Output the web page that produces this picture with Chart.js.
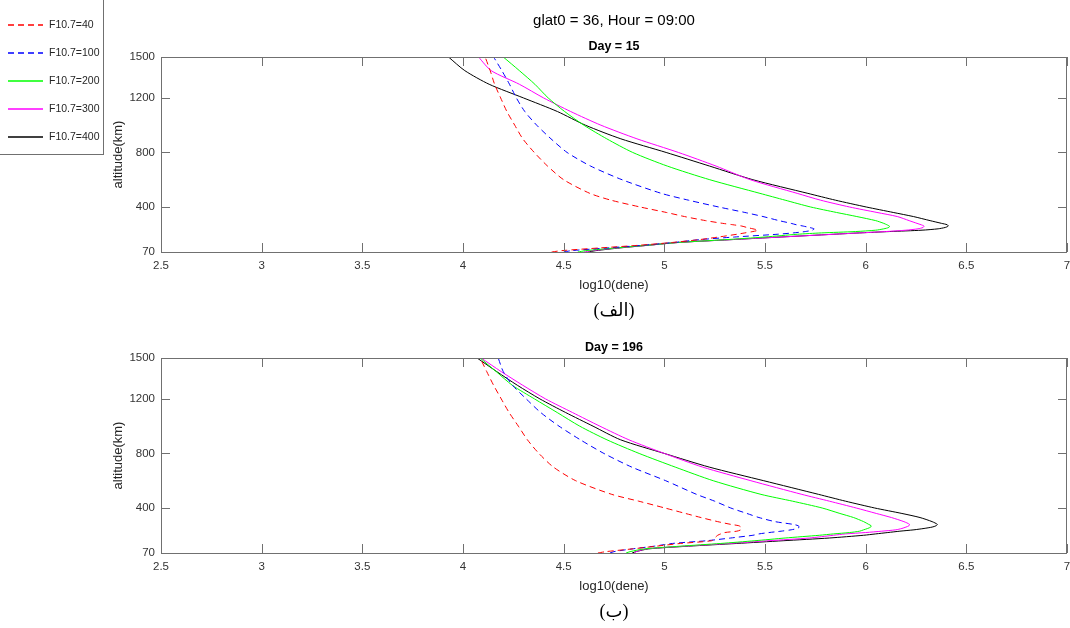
<!DOCTYPE html>
<html>
<head>
<meta charset="utf-8">
<script src="https://cdn.jsdelivr.net/npm/chart.js@4.4.1/dist/chart.umd.min.js"></script>
<style>
  html, body { margin: 0; padding: 0; background: #fff; }
  body { width: 1070px; height: 628px; position: relative; overflow: hidden; }
  canvas { position: absolute; left: 0; }
</style>
</head>
<body>
<canvas id="day15" width="1070" height="340" style="top:0"></canvas>
<canvas id="day196" width="1070" height="314" style="top:314px"></canvas>
<script>
// altitude grid (km) shared by every profile
const altKm = [70, 80, 100, 120, 140, 160, 180, 200, 210, 220, 230, 240, 250, 260, 270, 280,
  300, 330, 360, 400, 450, 500, 600, 700, 800, 900, 1000, 1100, 1200, 1300, 1400, 1500];

const xTicks = [2.5, 3, 3.5, 4, 4.5, 5, 5.5, 6, 6.5, 7];
const yTicks = [70, 400, 800, 1200, 1500];

const seriesNames = ['F10.7=40', 'F10.7=100', 'F10.7=200', 'F10.7=300', 'F10.7=400'];
const seriesColors = ['#ff0000', '#0000ff', '#00ff00', '#ff00ff', '#000000'];
const seriesDash = [[6, 4], [6, 4], [], [], []];

// log10(dene), day 15
const day15F40 = [4.44, 4.49, 4.68, 4.88, 5.04, 5.17, 5.27, 5.36, 5.40, 5.44, 5.465, 5.44, 5.41, 5.385, 5.34, 5.29,
  5.205, 5.10, 5.01, 4.88, 4.735, 4.63, 4.50, 4.42, 4.354, 4.297, 4.257, 4.218, 4.187, 4.157, 4.135, 4.11];
const day15F100 = [4.50, 4.54, 4.72, 4.90, 5.05, 5.17, 5.35, 5.56, 5.64, 5.70, 5.735, 5.744, 5.72, 5.69, 5.655, 5.63,
  5.57, 5.49, 5.40, 5.27, 5.12, 4.985, 4.79, 4.634, 4.517, 4.437, 4.366, 4.307, 4.265, 4.231, 4.193, 4.152];
const day15F200 = [4.57, 4.61, 4.76, 4.92, 5.07, 5.30, 5.50, 5.66, 5.78, 5.95, 6.05, 6.09, 6.115, 6.118, 6.105, 6.09,
  6.05, 5.956, 5.855, 5.727, 5.60, 5.475, 5.226, 5.015, 4.843, 4.714, 4.60, 4.505, 4.423, 4.357, 4.28, 4.20];
const day15F300 = [4.60, 4.64, 4.77, 4.925, 5.07, 5.32, 5.58, 5.84, 5.97, 6.10, 6.20, 6.26, 6.285, 6.29, 6.275, 6.255,
  6.216, 6.157, 6.056, 5.92, 5.776, 5.66, 5.427, 5.257, 5.07, 4.864, 4.685, 4.535, 4.40, 4.28, 4.14, 4.077];
const day15F400 = [4.62, 4.66, 4.78, 4.925, 5.07, 5.325, 5.58, 5.84, 5.97, 6.12, 6.28, 6.36, 6.395, 6.41, 6.405, 6.377,
  6.32, 6.237, 6.137, 6.003, 5.85, 5.713, 5.44, 5.225, 5.009, 4.784, 4.608, 4.469, 4.30, 4.13, 4.009, 3.928];

// log10(dene), day 196
const day196F40 = [4.67, 4.71, 4.84, 4.96, 5.08, 5.235, 5.25, 5.265, 5.28, 5.30, 5.36, 5.38, 5.38, 5.38, 5.37, 5.33,
  5.265, 5.182, 5.105, 5.003, 4.873, 4.739, 4.56, 4.449, 4.377, 4.32, 4.275, 4.229, 4.19, 4.152, 4.118, 4.085];
const day196F100 = [4.73, 4.75, 4.84, 4.95, 5.04, 5.21, 5.33, 5.44, 5.47, 5.52, 5.58, 5.63, 5.66, 5.67, 5.665, 5.64,
  5.55, 5.47, 5.41, 5.33, 5.25, 5.16, 5.007, 4.838, 4.70, 4.583, 4.477, 4.386, 4.314, 4.246, 4.20, 4.175];
const day196F200 = [4.81, 4.83, 4.90, 5.08, 5.28, 5.45, 5.60, 5.77, 5.84, 5.92, 5.97, 5.99, 6.01, 6.025, 6.027, 6.015,
  5.99, 5.94, 5.872, 5.784, 5.637, 5.48, 5.243, 5.054, 4.875, 4.715, 4.58, 4.468, 4.355, 4.245, 4.165, 4.085];
const day196F300 = [4.85, 4.86, 4.91, 5.10, 5.32, 5.52, 5.72, 5.84, 5.90, 6.00, 6.08, 6.15, 6.18, 6.20, 6.215, 6.218,
  6.19, 6.128, 6.053, 5.953, 5.82, 5.683, 5.43, 5.19, 5.0, 4.824, 4.68, 4.544, 4.41, 4.297, 4.19, 4.09];
const day196F400 = [4.84, 4.86, 4.92, 5.12, 5.36, 5.59, 5.82, 5.99, 6.05, 6.11, 6.17, 6.24, 6.29, 6.33, 6.35, 6.356,
  6.33, 6.27, 6.18, 6.045, 5.90, 5.766, 5.494, 5.223, 5.0, 4.783, 4.646, 4.51, 4.382, 4.27, 4.168, 4.07];

const FONT = '"Liberation Sans", Arial, Helvetica, sans-serif';

function buildDatasets(rows) {
  return rows.map((vals, i) => ({
    label: seriesNames[i],
    data: vals.map((v, k) => ({ x: v, y: altKm[k] })),
    borderColor: seriesColors[i],
    borderDash: seriesDash[i],
    borderWidth: 1,
    pointRadius: 0,
    showLine: true,
    tension: 0.25,
    fill: false
  }));
}

// box, inward ticks, titles and axis labels
const axesFrame = {
  id: 'axesFrame',
  afterDraw(chart, args, opts) {
    const { ctx, chartArea: a, scales } = chart;
    ctx.save();
    ctx.strokeStyle = '#707070';
    ctx.lineWidth = 1;
    ctx.setLineDash([]);
    ctx.beginPath();
    scales.x.ticks.forEach(t => {
      const px = Math.round(scales.x.getPixelForValue(t.value)) + 0.5;
      ctx.moveTo(px, a.bottom); ctx.lineTo(px, a.bottom - 9);
      ctx.moveTo(px, a.top); ctx.lineTo(px, a.top + 9);
    });
    scales.y.ticks.forEach(t => {
      const py = Math.round(scales.y.getPixelForValue(t.value)) + 0.5;
      ctx.moveTo(a.left, py); ctx.lineTo(a.left + 9, py);
      ctx.moveTo(a.right, py); ctx.lineTo(a.right - 9, py);
    });
    ctx.stroke();
    ctx.strokeRect(Math.round(a.left) + 0.5, Math.round(a.top) + 0.5,
      Math.round(a.width) - 1, Math.round(a.height));

    const cx = (a.left + a.right) / 2;
    ctx.textAlign = 'center';
    ctx.textBaseline = 'middle';
    ctx.fillStyle = '#000';
    if (opts.title) {
      ctx.font = '15px ' + FONT;
      ctx.fillText(opts.title, cx, opts.titleY);
    }
    ctx.font = 'bold 12.5px ' + FONT;
    ctx.fillText(opts.subtitle, cx, a.top - 10);

    ctx.fillStyle = '#262626';
    ctx.font = '13px ' + FONT;
    ctx.fillText('log10(dene)', cx, a.bottom + 33);
    ctx.save();
    ctx.translate(118, (a.top + a.bottom) / 2);
    ctx.rotate(-Math.PI / 2);
    ctx.fillText('altitude(km)', 0, 0);
    ctx.restore();

    ctx.fillStyle = '#000';
    ctx.direction = 'rtl';
    ctx.font = '18px "Liberation Serif", "DejaVu Sans", serif';
    ctx.fillText(opts.caption, cx, a.bottom + 59);
    ctx.restore();
  }
};

// legend box tucked into the top-left corner
const boxLegend = {
  id: 'boxLegend',
  afterDraw(chart) {
    const { ctx } = chart;
    ctx.save();
    ctx.lineWidth = 1;
    ctx.strokeStyle = '#707070';
    ctx.strokeRect(-1.5, -1.5, 105, 156);
    ctx.font = '10.5px ' + FONT;
    ctx.textAlign = 'left';
    ctx.textBaseline = 'middle';
    seriesNames.forEach((name, i) => {
      const y = 25 + 28 * i;
      ctx.lineWidth = 1.3;
      ctx.strokeStyle = seriesColors[i];
      ctx.setLineDash(seriesDash[i]);
      ctx.beginPath();
      ctx.moveTo(8, y);
      ctx.lineTo(43, y);
      ctx.stroke();
      ctx.fillStyle = '#262626';
      ctx.fillText(name, 49, y);
    });
    ctx.restore();
  }
};

function makePanel(id, rows, top, xHeight, frameOpts, extraPlugins) {
  return new Chart(document.getElementById(id), {
    type: 'scatter',
    data: { datasets: buildDatasets(rows) },
    options: {
      responsive: false,
      animation: false,
      layout: { padding: { top: top, right: 3, left: 0, bottom: 0 } },
      plugins: {
        legend: { display: false },
        tooltip: { enabled: false },
        axesFrame: frameOpts
      },
      scales: {
        x: {
          type: 'linear', min: 2.5, max: 7,
          grid: { display: false, drawTicks: false },
          border: { display: false },
          afterBuildTicks: s => { s.ticks = xTicks.map(v => ({ value: v })); },
          afterFit: s => { s.height = xHeight; s.paddingLeft = 0; s.paddingRight = 0; },
          ticks: {
            autoSkip: false, maxRotation: 0, padding: 7, color: '#333',
            font: { family: FONT, size: 11.5 },
            callback: v => String(v)
          }
        },
        y: {
          type: 'linear', min: 70, max: 1500,
          grid: { display: false, drawTicks: false },
          border: { display: false },
          afterBuildTicks: s => { s.ticks = yTicks.map(v => ({ value: v })); },
          afterFit: s => { s.width = 161; s.paddingTop = 0; s.paddingBottom = 0; },
          ticks: {
            autoSkip: false, padding: 6, color: '#333',
            font: { family: FONT, size: 11.5 },
            callback: v => String(v)
          }
        }
      }
    },
    plugins: [axesFrame].concat(extraPlugins)
  });
}

makePanel('day15', [day15F40, day15F100, day15F200, day15F300, day15F400], 57, 88,
  { title: 'glat0 = 36, Hour = 09:00', titleY: 21, subtitle: 'Day = 15', caption: '(الف)' }, [boxLegend]);
makePanel('day196', [day196F40, day196F100, day196F200, day196F300, day196F400], 44, 75,
  { subtitle: 'Day = 196', caption: '(ب)' }, []);
</script>
</body>
</html>
